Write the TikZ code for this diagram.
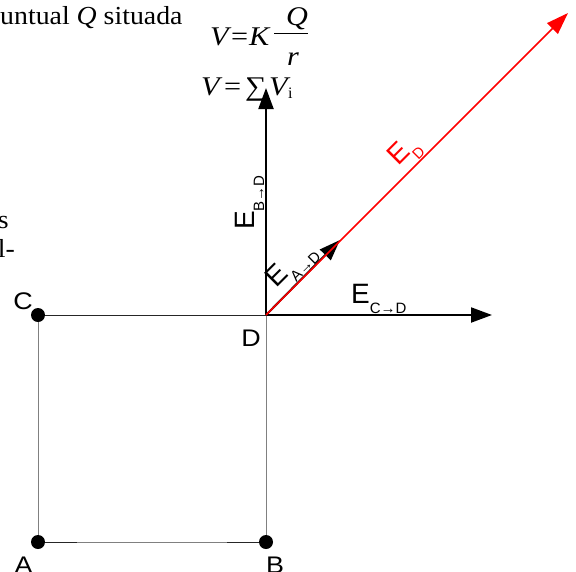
\documentclass[tikz,border=0pt]{standalone}
\usepackage{fontspec}
\setmainfont{Liberation Serif}
\setsansfont{Liberation Sans}
\usepackage{graphicx}
\usetikzlibrary{arrows.meta,calc}
\newcommand\Esub[1]{\raisebox{-10pt}{\fontsize{15}{15}\selectfont #1}}
\newcommand\hs[1]{\scalebox{1.12}[1]{#1}}
\tikzset{
  dot/.style={circle,fill=black,inner sep=0pt,minimum size=14pt},
  lbl/.style={font=\sffamily\fontsize{24}{24}\selectfont,inner sep=0pt},
  elbl/.style={font=\sffamily\fontsize{28}{28}\selectfont,inner sep=0pt},
  serif/.style={font=\fontsize{26}{30}\selectfont,inner sep=0pt},
  fs/.style={font=\fontsize{27}{30}\selectfont,inner sep=0pt},
  vec/.style={line width=2pt,-{Triangle[length=21pt,width=15pt]}},
  redvec/.style={draw=red,line width=1.6pt,-{Triangle[length=22pt,width=15pt]}},
  side/.style={line width=1pt,draw=black!85},
  gside/.style={line width=1pt,draw=black!50},
  fbar/.style={line width=1.2pt},
}
\begin{document}
\begin{tikzpicture}[x=1pt,y=-1pt]
\useasboundingbox (0,0) rectangle (576,571);
\fill[white] (0,0) rectangle (576,571);
% corners
\node[dot] (C) at (38,315) {};
\node[dot] (A) at (38,542) {};
\node[dot] (B) at (266,542) {};
\coordinate (D) at (266,315);
% sides
\draw[gside] (C) -- (A);
\draw[gside] (A) -- (B);
\draw[gside] (D) -- (B);
\draw[side] (C) -- (D);
\draw[side] (A) -- ($(A)!0.17!(B)$);
\draw[side] ($(A)!0.83!(B)$) -- (B);
% vector tips
\coordinate (tB) at (266,88);
\coordinate (tC) at (492,315);
\coordinate (tA) at (340,240);
\coordinate (tD) at (568,13);
\draw[vec] (D) -- (tB);
\draw[vec] (D) -- (tC);
\draw[vec] (D) -- (tA);
\draw[redvec] (D) -- (tD);
% corner labels
\node[lbl,anchor=center] (lC) at (23,301) {\hs{C}};
\node[lbl,anchor=center] (lD) at (251,338) {\hs{D}};
\node[lbl,anchor=base] (lA) at (23.5,573) {\hs{A}};
\node[lbl,anchor=base] (lB) at (275,573) {\hs{B}};
% vector labels
\node[elbl,anchor=base west] (eC) at (351,303) {E\Esub{C→D}};
\node[elbl,anchor=base west,rotate=90] (eB) at (254,230) {E\Esub{B→D}};
\node[elbl,anchor=base west,rotate=45] (eA) at (276,289) {E\Esub{A→D}};
\node[elbl,anchor=base west,rotate=45,text=red] (eD) at (398,167) {E\Esub{D}};
% text fragments
\node[serif,anchor=base west] (t1) at (0,24) {\scalebox{1.07}[1]{untual \textit{Q} situada}};
\node[serif,anchor=base east] (t2) at (9,228) {\scalebox{1.07}[1]{s}};
\node[serif,anchor=base east] (t3) at (15,257) {\scalebox{1.07}[1]{l-}};
% formula 1
\node[fs,anchor=base west] (f1V) at (210,45) {\hs{\itshape V}};
\node[fs,anchor=base west] (f1eq) at (231,45) {\hs{=}};
\node[fs,anchor=base west] (f1K) at (249,45) {\hs{\itshape K}};
\draw[fbar] (274,33.5) -- (308,33.5);
\node[fs,anchor=base] (fQ) at (297,25) {\hs{\itshape Q}};
\node[fs,anchor=base] (fr) at (293,65) {\hs{\itshape r}};
% formula 2
\node[fs,anchor=base west] (f2V) at (201,95) {\hs{\itshape V}};
\node[fs,anchor=base west] (f2eq) at (224,95) {\hs{=}};
\node[fs,anchor=base west] (f2S) at (245,95) {\hs{∑}};
\node[fs,anchor=base west] (f2W) at (269,95) {\hs{\itshape V}};
\node[fs,anchor=base west] (f2i) at (288,98) {\fontsize{16}{16}\selectfont i};
\end{tikzpicture}
\end{document}
